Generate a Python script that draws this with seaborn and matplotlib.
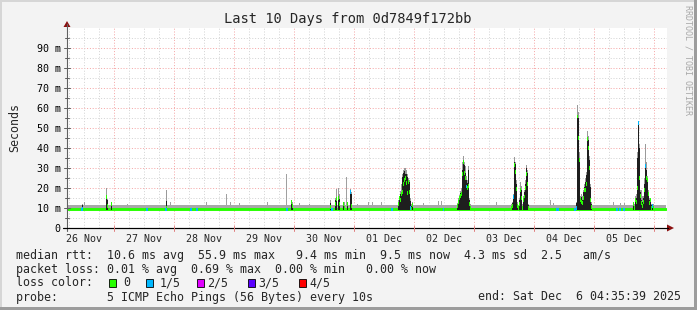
import numpy as np
import pandas as pd
import matplotlib
matplotlib.use("Agg")
import matplotlib.pyplot as plt
import seaborn as sns
from matplotlib.patches import Rectangle, Polygon
from matplotlib.lines import Line2D

# ---------------- data (ms; time in hours since graph start, 10 days = 240 h) ----------------
day_labels = ["26 Nov", "27 Nov", "28 Nov", "29 Nov", "30 Nov",
              "01 Dec", "02 Dec", "03 Dec", "04 Dec", "05 Dec"]
first_midnight_h = 18.8
y_ticks = [0, 10, 20, 30, 40, 50, 60, 70, 80, 90]
y_tick_labels = ["0", "10 m", "20 m", "30 m", "40 m", "50 m", "60 m", "70 m", "80 m", "90 m"]

base_smoke_lo = 9.0
base_smoke_hi = 11.3
base_median = 9.3

# isolated outlier pings (grey smoke only)
spike_h = [6.8, 24.3, 39.9, 41.2, 55.9, 63.6, 65.2, 68.8, 80.0, 87.6, 92.8, 96.8, 105.2,
           111.6, 116.0, 120.4, 122.0, 125.9, 142.5, 148.5, 149.9, 171.9, 193.2, 194.4,
           218.5, 221.5, 222.9]
spike_top = [13, 12, 19, 13, 13, 17, 13, 12.5, 13, 27, 12.5, 12, 13.5,
             25.5, 12, 13, 13, 13, 12.5, 13.5, 13.5, 13, 14, 12.5,
             13, 12.5, 12.5]

# columns with a raised ping spread: median, dark smoke top, grey smoke top, lost pings
ev_h = [6.0, 15.6, 16.0, 17.6, 39.9, 89.8, 90.2, 105.4, 107.2, 107.8, 108.4, 109.0, 110.4,
        110.8, 112.2, 113.2, 113.6,
        132.6, 133.0, 133.4, 133.8, 134.2, 134.6, 135.0, 135.4, 135.8, 136.2, 136.6, 137.0,
        137.4, 137.8, 138.2,
        156.2, 156.6, 157.0, 157.4, 157.8, 158.2, 158.6, 159.0, 159.4, 159.8, 160.2, 160.6,
        161.0, 161.4,
        177.8, 178.2, 178.6, 179.0, 179.4, 179.8, 180.2, 180.6, 181.0, 181.4, 181.8, 182.2,
        182.6, 183.0, 183.4, 183.8, 184.2, 184.6,
        203.8, 204.2, 204.6, 205.0, 205.4, 205.8, 206.2, 206.6, 207.0, 207.4, 207.8, 208.2,
        208.6, 209.0, 209.4, 209.8,
        226.6, 227.0, 227.4, 227.8, 228.2, 228.6, 229.0, 229.4, 229.8, 230.2, 230.6, 231.0,
        231.4, 231.8, 232.2, 232.6, 233.0, 233.4, 233.8, 234.2, 234.6]
ev_med = [9.8, 15.5, 11, 12, 10, 13, 11, 10.5, 12, 14.5, 15, 12, 12,
          10, 12, 18, 11,
          12, 15, 14, 17, 18, 22, 24, 25, 22.5, 17.5, 23, 18,
          10, 9.8, 11.5,
          11, 13, 15, 16, 17, 27, 33, 27.5, 25, 20.7, 20, 21,
          12, 10,
          10, 11, 15.5, 31.5, 28, 19.5, 11, 10, 12, 19, 15, 10,
          14, 15.7, 20, 27, 22, 10,
          10, 55.7, 45, 34, 14, 13, 12.5, 15, 19, 19, 22, 44.5,
          40, 30, 14, 10.5,
          12, 10, 14, 13, 20, 52.5, 25, 16, 12.5, 11, 13, 19,
          31, 25, 24, 17, 12.5, 14, 10, 11, 10]
ev_dark = [11.5, 16, 14, 12, 13.5, 13, 12, 12.5, 14, 15.5, 15.5, 14.5, 12,
           11, 11.5, 18, 17,
           13, 15, 17, 18, 25.7, 27.5, 28.5, 27, 27, 25.5, 24, 23,
           13.5, 11, 12.5,
           11.5, 14, 15.7, 17.5, 18, 29, 34, 31.5, 27.5, 24, 22.5, 29,
           14, 11,
           10.7, 12.5, 15.7, 33, 32, 22, 12, 11, 14, 20, 19, 11,
           15, 18, 22, 30, 27.5, 11.5,
           12.5, 56.5, 55, 35, 15, 15.7, 14, 18, 20.7, 23, 26.5, 45,
           44, 34, 20.7, 12,
           12.3, 11, 14.8, 15, 35, 53, 40, 18, 14, 13, 15, 22,
           31.5, 29, 24, 17.5, 14, 14, 11.5, 11.5, 11]
ev_grey = [12, 20, 14.5, 12.5, 19, 14, 13, 14, 15, 19.5, 20, 17, 13,
           13, 12, 19.5, 18,
           14, 16, 18.5, 22, 27, 29, 30, 30, 29, 27, 25, 24,
           15, 12, 13,
           12.5, 15, 16.5, 18.5, 20, 33, 36, 33, 31, 26, 24, 31,
           15, 12,
           12, 13, 17, 35.7, 33, 24, 13, 11.5, 15, 23, 21, 12,
           16, 19, 24, 31.5, 29, 12,
           13, 61.5, 58, 38, 16, 17, 16, 19, 22, 25, 28, 48.5,
           46, 36, 22, 13,
           13, 12, 16, 17, 38, 53.5, 42, 19, 19, 16, 16, 25,
           42, 33, 26, 19, 15, 15, 12, 12, 12]
ev_loss = [1, 0, 0, 0, 0, 0, 0, 0, 0, 0, 0, 0, 0,
           0, 0, 1, 0,
           0, 0, 0, 0, 0, 0, 0, 0, 0, 0, 0, 0,
           1, 0, 0,
           0, 0, 0, 0, 0, 0, 0, 0, 0, 1, 0, 0,
           0, 0,
           0, 0, 1, 0, 0, 0, 0, 0, 0, 0, 0, 0,
           0, 0, 0, 0, 0, 0,
           1, 0, 0, 0, 0, 0, 0, 0, 0, 0, 0, 0,
           0, 0, 0, 0,
           0, 0, 0, 0, 0, 1, 0, 0, 0, 0, 0, 0,
           1, 0, 0, 0, 0, 0, 0, 1, 0]

# baseline columns whose median was drawn with 1/5 loss colour
blue_h = [5.9, 32.0, 39.6, 49.5, 52.0, 87.9, 105.9, 129.9, 150.5, 195.9, 196.4, 203.2,
          219.9, 221.2, 222.8]

loss_colors = ["#26ff00", "#00b8ff", "#e000ff", "#5a00ff", "#ff0000"]
loss_names = ["0", "1/5", "2/5", "3/5", "4/5"]

title = "Last 10 Days from 0d7849f172bb"
legend_line1 = "median rtt:  10.6 ms avg  55.9 ms max   9.4 ms min  9.5 ms now  4.3 ms sd  2.5   am/s"
legend_line2 = "packet loss: 0.01 % avg  0.69 % max  0.00 % min   0.00 % now"
probe_text = "probe:       5 ICMP Echo Pings (56 Bytes) every 10s"
end_text = "end: Sat Dec  6 04:35:39 2025"

# ---------------- figure ----------------
W, H = 697, 310
sns.set_style("white")
plt.rcParams["font.family"] = ["DejaVu Sans Mono"]

fig = plt.figure(figsize=(W / 100, H / 100), dpi=100)
fig.patch.set_facecolor("#f3f3f3")

X0, X1, Y0, Y1 = 67, 667, 228, 28  # plot area in pixels
ax = fig.add_axes([X0 / W, 1 - Y0 / H, (X1 - X0) / W, (Y0 - Y1) / H])
ax.set_facecolor("white")
ax.set_xlim(0, 240)
ax.set_ylim(0, 100)
for s in ax.spines.values():
    s.set_visible(False)
ax.set_xticks([])
ax.set_yticks([])


def fx(x):
    return x / W


def fy(y):
    return 1 - y / H


PX = 0.72  # one pixel in points
GRID_DASH = (1.0, 1.8)
for v in np.arange(5, 100, 5):
    col = "#f5a8a8" if v % 10 == 0 else "#d4d4d4"
    ax.axhline(v, color=col, lw=PX, dashes=GRID_DASH, zorder=1)
for k in range(0, 41):
    h = first_midnight_h - 18 + 6 * k
    if h > 240:
        break
    is_major = abs(((h - first_midnight_h) / 24) - round((h - first_midnight_h) / 24)) < 1e-6
    col = "#f5a8a8" if is_major else "#d4d4d4"
    ax.axvline(h, color=col, lw=PX, dashes=GRID_DASH, zorder=1)

# baseline smoke and median
data_end = 239.6
ax.fill_between([0, data_end], [base_smoke_lo] * 2, [base_smoke_hi] * 2,
                color="#a8a8a8", lw=0, zorder=2)
base_df = pd.DataFrame({"h": [0, data_end], "ms": [base_median, base_median]})
sns.lineplot(data=base_df, x="h", y="ms", ax=ax, color=loss_colors[0], lw=2.1,
             zorder=3, legend=False)

# isolated outliers
st = np.array(spike_top)
ax.bar(spike_h, st - base_smoke_hi, bottom=base_smoke_hi, width=0.4,
       color="#a0a0a0", lw=0, align="center", zorder=4, antialiased=False)

# raised ping spreads
eg = np.array(ev_grey)
ed = np.array(ev_dark)
em = np.array(ev_med)
ax.bar(ev_h, eg - base_smoke_lo, bottom=base_smoke_lo, width=0.4,
       color="#9a9a9a", lw=0, zorder=5, antialiased=False)
ax.bar(ev_h, ed - base_smoke_lo, bottom=base_smoke_lo, width=0.4,
       color="#1e1e1e", lw=0, zorder=6, antialiased=False)
ax.bar(ev_h, np.full(len(em), 1.6), bottom=em - 0.8, width=0.4,
       color=[loss_colors[l] for l in ev_loss], lw=0, zorder=7, antialiased=False)
ax.bar(blue_h, np.full(len(blue_h), 1.5), bottom=base_median - 0.75, width=0.6,
       color=loss_colors[1], lw=0, zorder=7, antialiased=False)

ax.set_xlabel("")
ax.set_ylabel("")


def fline(xs, ys, **kw):
    fig.add_artist(Line2D([fx(x) for x in xs], [fy(y) for y in ys],
                          transform=fig.transFigure, **kw))


# y axis + ticks
fline([X0, X0], [Y0 + 3, 24], color="#606060", lw=PX * 1.1)
for v in np.arange(0, 100, 5):
    y = Y0 - v * 2.0
    L = 3 if v % 10 == 0 else 2
    fline([X0 - L, X0 + L], [y, y], color="#606060", lw=PX)
# x axis
fline([X0 - 4, 668], [Y0, Y0], color="black", lw=PX * 1.2)
for k in range(10):
    x = X0 + (first_midnight_h + 24 * k) * 2.5
    fline([x, x], [Y0 - 2, Y0 + 3], color="#e08080", lw=PX)
# arrows
fig.add_artist(Polygon([(fx(X0 - 3.5), fy(27)), (fx(X0 + 3.5), fy(27)), (fx(X0), fy(21))],
                       closed=True, transform=fig.transFigure, color="#8b1010", lw=0))
fig.add_artist(Polygon([(fx(667), fy(Y0 - 3.5)), (fx(667), fy(Y0 + 3.5)), (fx(674), fy(Y0))],
                       closed=True, transform=fig.transFigure, color="#8b1010", lw=0))

# tick labels
for v, lab in zip(y_ticks, y_tick_labels):
    fig.text(fx(60.5), fy(Y0 - v * 2.0 + 3.6), lab, ha="right", va="baseline",
             fontsize=7.2, color="black")
for k, lab in enumerate(day_labels):
    x = X0 + (first_midnight_h - 12 + 24 * k) * 2.5
    fig.text(fx(x), fy(241.5), lab, ha="center", va="baseline", fontsize=7.2)

# title, unit label, watermark
fig.text(fx(348), fy(23.5), title, ha="center", va="baseline", fontsize=9.9)
fig.text(fx(14.5), fy(127), "Seconds", rotation=90, ha="center", va="center", fontsize=8.4)
fig.text(fx(688), fy(5), "RRDTOOL / TOBI OETIKER", rotation=-90, ha="center", va="top",
         fontsize=6.0, color="#a8a8a8")

# legend
LX = 16
fig.text(fx(LX), fy(258.5), legend_line1, ha="left", va="baseline", fontsize=8.4)
fig.text(fx(LX), fy(272.5), legend_line2, ha="left", va="baseline", fontsize=8.4)
fig.text(fx(LX), fy(286.5), "loss color:", ha="left", va="baseline", fontsize=8.4)
box_x = [108.5, 145.5, 196.5, 247.5, 298.5]
lab_x = [123.5, 159.5, 207, 258, 309.5]
for c, n, bx, tx in zip(loss_colors, loss_names, box_x, lab_x):
    fig.add_artist(Rectangle((fx(bx), fy(286.5)), 7.5 / W, 8 / H, transform=fig.transFigure,
                             facecolor=c, edgecolor="black", lw=0.6))
    fig.text(fx(tx), fy(286.5), n, ha="left", va="baseline", fontsize=8.4)
fig.text(fx(LX), fy(300.5), probe_text, ha="left", va="baseline", fontsize=8.4)
fig.text(fx(681), fy(300.5), end_text, ha="right", va="baseline", fontsize=8.4)

# canvas frame
fig.add_artist(Rectangle((0, fy(310)), 1, 3 / H, transform=fig.transFigure,
                         facecolor="#9c9c9c", lw=0))
fig.add_artist(Rectangle((fx(694), 0), 3 / W, 1, transform=fig.transFigure,
                         facecolor="#9c9c9c", lw=0))
fig.add_artist(Rectangle((0, fy(2)), fx(694), 2 / H, transform=fig.transFigure,
                         facecolor="#d6d6d6", lw=0))
fig.add_artist(Rectangle((0, fy(307)), 2 / W, 305 / H, transform=fig.transFigure,
                         facecolor="#d6d6d6", lw=0))

fig.savefig("out.png", dpi=100, facecolor=fig.get_facecolor())
